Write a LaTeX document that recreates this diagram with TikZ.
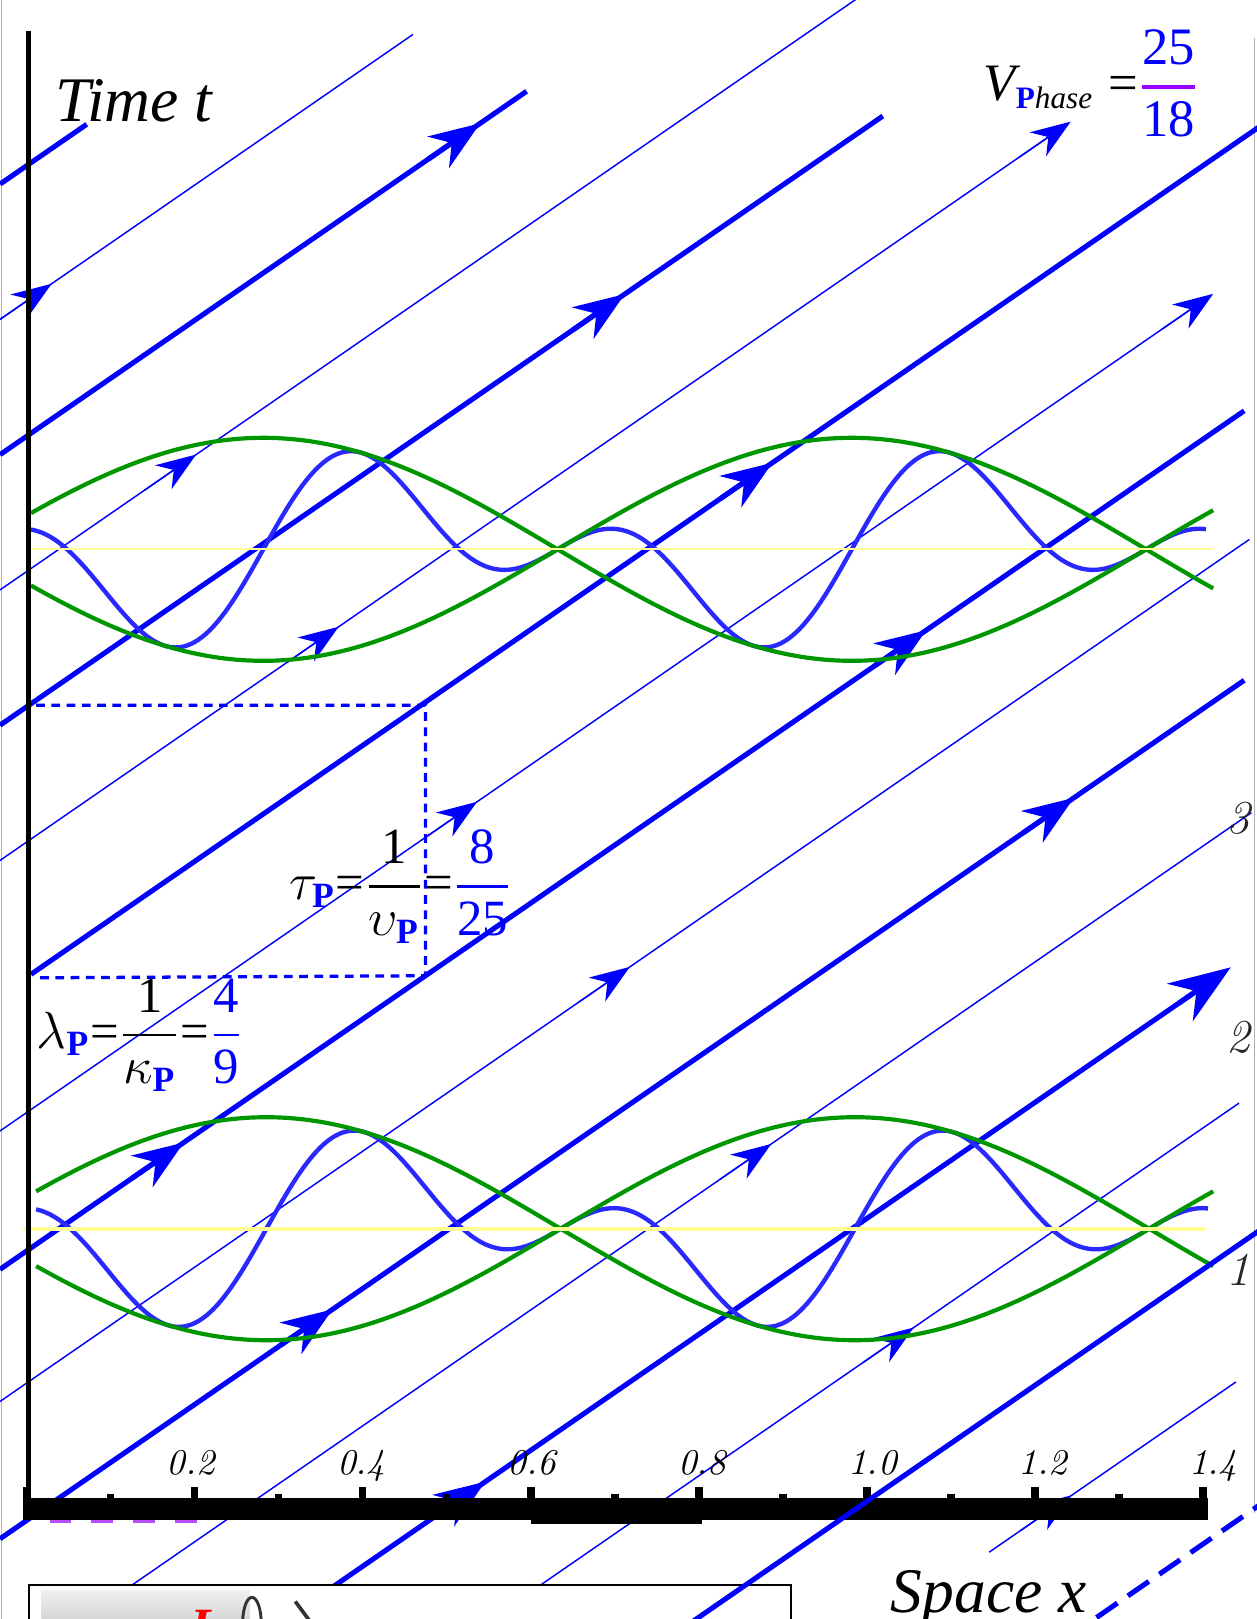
\documentclass[tikz,border=0pt]{standalone}
\usepackage{amsmath}
\usepackage{fontspec}
\usepackage{tikz}
\usetikzlibrary{arrows.meta}

\newfontfamily\tms{Liberation Serif}
\definecolor{wavegreen}{RGB}{0,150,0}
\definecolor{waveblue}{RGB}{40,40,255}
\definecolor{fracpurple}{RGB}{153,0,255}
\definecolor{axisyellow}{RGB}{255,255,150}
\newcommand{\tmnum}[1]{\text{\tms #1}}
\newcommand{\tmit}[1]{\text{\tms\itshape #1}}
\newcommand{\bluP}{\text{\tms\bfseries\color{blue}P}}
\newcommand{\barfrac}[3][0.8pt]{\genfrac{}{}{#1}{0}{#2}{#3}}

\begin{document}
\begin{tikzpicture}[x=0.1mm,y=-0.1mm,
    thinline/.style={blue, line width=0.4pt},
    thickline/.style={blue, line width=1.4pt},
    thinarrow/.style={thinline, -{Stealth[length=11pt,width=8pt,inset=3.5pt]}},
    thickarrow/.style={thickline, -{Stealth[length=14pt,width=10.5pt,inset=4.5pt]}},
    bigarrow/.style={thickline, -{Stealth[length=17pt,width=12.5pt,inset=5.5pt]}},
    wave/.style={waveblue, line width=1.2pt},
    envelope/.style={wavegreen, line width=1.15pt},
    ticklabel/.style={anchor=base, inner sep=0pt, font=\fontsize{10}{12}\selectfont\itshape},
    sidelabel/.style={black!85, inner sep=0pt, font=\fontsize{13}{15}\selectfont\itshape},
    eqn/.style={anchor=base west, inner sep=0pt, font=\fontsize{14}{17}\selectfont}]
    \useasboundingbox (0,0) rectangle (1217,1568);
    % Frame edges
    \draw[gray!60, line width=0.5pt] (1.5,0) -- (1.5,1568);
    \draw[gray!60, line width=0.5pt] (1215,37) -- (1215,1465);
    % Phase lines
    \foreach \ic/\xa/\xb/\st in {159/0/84/thickline, 290/0/400/thinline, 421/0/510/thickline,
        552/0/840/thinline, 683/0/855/thickline, 814/0/1025/thinline, 945/30/1240/thickline,
        1076/0/1163/thinline, 1210/0/1205/thickline, 1338/0/1210/thinline, 1471/0/1205/thickline,
        1604/0/1212/thinline, 1740/0/1177/thickline, 1877/0/1200/thinline}
      \draw[\st] ({\xa},{\ic-0.69*(\xa-28)}) -- ({\xb},{\ic-0.69*(\xb-28)});
    \draw[thinline] ({958},{2145-0.69*(958-28)}) -- ({1197},{2145-0.69*(1197-28)});
    % Arrows on the lines
    \foreach \ic/\xt/\st in {290/50/thinarrow, 421/465/thickarrow, 552/190/thinarrow,
        683/605/thickarrow, 814/328/thinarrow, 814/1037/thinarrow, 945/748/thickarrow,
        1076/462/thinarrow, 1076/1175/thinarrow, 1210/178/thickarrow, 1210/897/thickarrow,
        1338/610/thinarrow, 1471/322/thickarrow, 1471/1040/thickarrow, 1604/747/thinarrow,
        1740/470/thickarrow, 1740/1192/bigarrow, 1877/885/thinarrow, 2145/1038/thinarrow}
      \draw[\st] ({\xt-50},{\ic-0.69*(\xt-50-28)}) -- ({\xt},{\ic-0.69*(\xt-28)});
    % Period box
    \draw[blue, line width=0.9pt, dash pattern=on 2.4pt off 1.8pt] (35,683) -- (412,683) -- (412,945) -- (35,947);
    % Upper wave
    \draw[wave] plot[domain=30:1168, samples=220, smooth] (\x, {532-108*cos(0.31579*(\x-255))*sin(0.947368*(\x-255))});
    \draw[envelope] plot[domain=30:1175, samples=100, smooth] (\x, {532-108*cos(0.31579*(\x-255))});
    \draw[envelope] plot[domain=30:1175, samples=100, smooth] (\x, {532+108*cos(0.31579*(\x-255))});
    \draw[axisyellow, line width=0.5pt] (28,532) -- (1175,532);
    % Lower wave
    \draw[wave] plot[domain=35:1170, samples=220, smooth] (\x, {1190-108*cos(0.31579*(\x-258))*sin(0.947368*(\x-258))});
    \draw[envelope] plot[domain=35:1175, samples=100, smooth] (\x, {1190-108*cos(0.31579*(\x-258))});
    \draw[envelope] plot[domain=35:1175, samples=100, smooth] (\x, {1190+108*cos(0.31579*(\x-258))});
    \draw[axisyellow, line width=1.2pt] (22,1190) -- (1167,1190);
    % Time axis
    \draw[line width=1.4pt] (28,30) -- (28,1460);
    % Space axis
    \fill (22,1451) rectangle (1170,1472);
    \fill (514,1470) rectangle (680,1476);
    \foreach \i in {0,...,14}{
      \ifodd\i
        \fill ({26+81.36*\i-3.5},1447) rectangle ({26+81.36*\i+3.5},1452);
      \else
        \fill ({26+81.36*\i-3.5},1440) rectangle ({26+81.36*\i+3.5},1452);
      \fi
    }
    \draw[fracpurple!70, line width=0.8pt, dash pattern=on 6pt off 5.5pt] (48,1473.5) -- (195,1473.5);
    \foreach \lab [count=\n] in {0.2,0.4,0.6,0.8,1.0,1.2,1.4}
      \node[ticklabel] (tick\n) at ({20+165*\n},1428) {\lab};
    % Cut-off panel below
    \draw[fill=white, line width=0.4pt] (28,1535) rectangle (766,1600);
    \shade[top color=gray!12, bottom color=gray!55] (40,1540) rectangle (242,1600);
    \draw[gray!40!black, line width=0.8pt] (244,1572) ellipse [x radius=0.9mm, y radius=2.5mm];
    \node[red, anchor=north, inner sep=0pt, font=\tms\fontsize{14}{16}\selectfont\itshape\bfseries] (cylL) at (200,1559) {L};
    \draw[gray!40!black, line width=1pt] (286,1551) -- (306,1578);
    % Lines past the panel
    \draw[thickline] ({670},{2014-0.69*(670-28)}) -- ({1240},{2014-0.69*(1240-28)});
    \draw[thickline, dash pattern=on 7pt off 3.5pt] ({1062},{2280-0.69*(1062-28)}) -- ({1240},{2280-0.69*(1240-28)});
    % Labels
    \node[anchor=base west, inner sep=0pt, font=\tms\fontsize{17.5}{21}\selectfont\itshape] (timelabel) at (53,118) {Time t};
    \node[anchor=base west, inner sep=0pt, font=\tms\fontsize{17.5}{21}\selectfont\itshape] (spacelabel) at (862,1562) {Space x};
    \node[sidelabel] (lvl3) at (1199,793) {3};
    \node[sidelabel] (lvl2) at (1199,1005) {2};
    \node[sidelabel] (lvl1) at (1199,1230) {1};
    \node[sidelabel] (lvl0) at (1224,1491) {0};
    \node[eqn, font=\fontsize{14.5}{17}\selectfont] (phaseeq) at (952,97)
      {$\displaystyle\tmit{V}_{\mbox{\tms\fontsize{8.6}{10}\selectfont\bfseries\color{blue}P\mdseries\itshape\color{black}hase}}\;\tmnum{=}\textcolor{fracpurple}{\barfrac[1.1pt]{\textcolor{blue}{\tmnum{25}}}{\textcolor{blue}{\tmnum{18}}}}$};
    \node[eqn] (taueq) at (280,871)
      {$\displaystyle\tau_{\bluP}\tmnum{=}\barfrac{\tmnum{1}}{\upsilon_{\bluP}}\tmnum{=}\textcolor{blue}{\barfrac{\tmnum{8}}{\tmnum{25}}}$};
    \node[eqn] (lambdaeq) at (35,1015)
      {$\displaystyle\lambda_{\bluP}\tmnum{=}\barfrac{\tmnum{1}}{\kappa_{\bluP}}\tmnum{=}\textcolor{blue}{\barfrac{\tmnum{4}}{\tmnum{9}}}$};
  \end{tikzpicture}
\end{document}
